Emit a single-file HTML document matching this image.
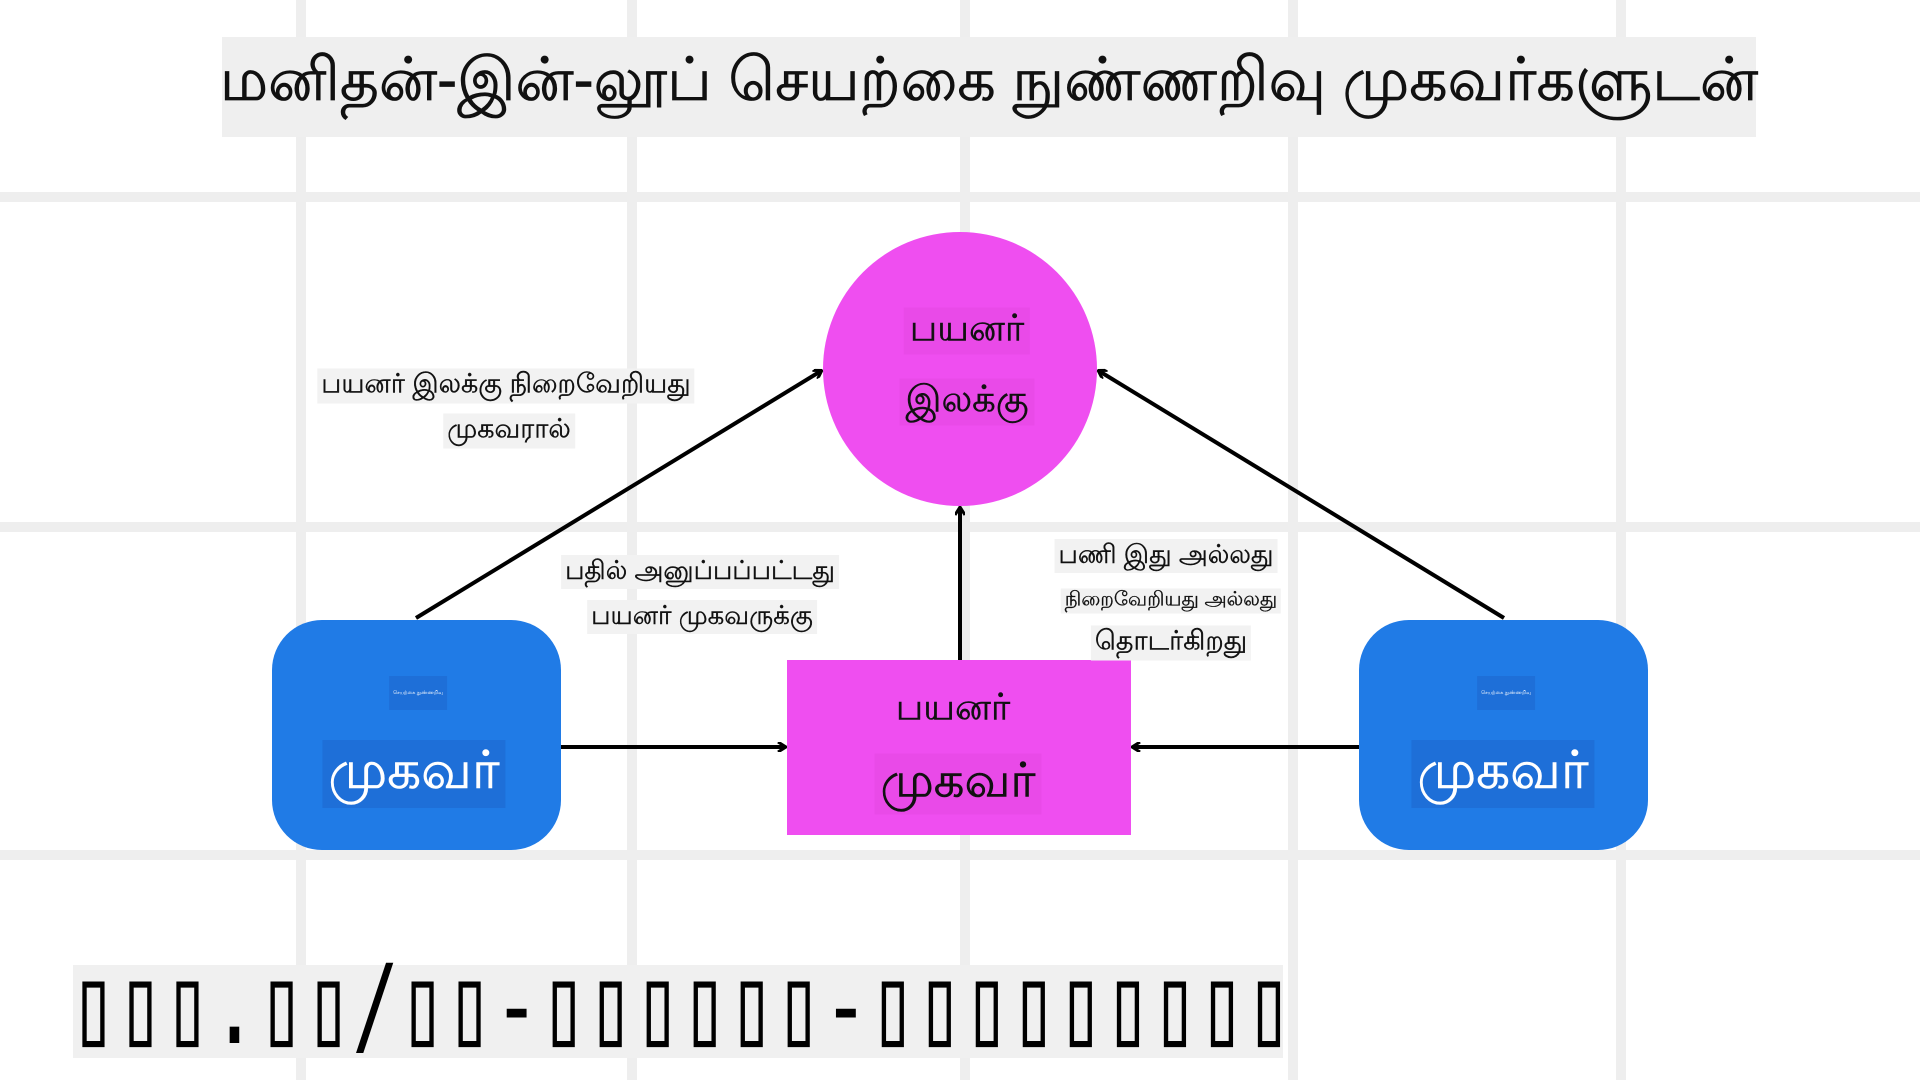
<!DOCTYPE html>
<html><head><meta charset="utf-8"><style>
body{margin:0;width:1920px;height:1080px;background:#fff;position:relative;overflow:hidden;font-family:"Liberation Sans","Noto Sans CJK SC",sans-serif}
.v{position:absolute;top:0;height:1080px;width:10px;background:#eeeeee}
.h{position:absolute;left:0;width:1920px;height:10px;background:#eeeeee}
.t{position:absolute;transform:translate(-50%,-50%);white-space:nowrap;color:#111}
.lb{background:#f2f2f2;padding:0 4px}
</style></head><body>
<div class="v" style="left:296px"></div><div class="v" style="left:627px"></div><div class="v" style="left:960px"></div><div class="v" style="left:1288px"></div><div class="v" style="left:1616px"></div>
<div class="h" style="top:192px"></div><div class="h" style="top:522px"></div><div class="h" style="top:850px"></div>
<div style="position:absolute;left:222px;top:37px;width:1534px;height:100px;background:#efefef"></div>
<div class="t" style="left:989px;top:84px;font-size:60px;-webkit-text-stroke:0.8px #111">மனிதன்-இன்-லூப் செயற்கை நுண்ணறிவு முகவர்களுடன்</div>
<svg width="1920" height="1080" style="position:absolute;left:0;top:0">
<defs><marker id="a" markerWidth="10" markerHeight="10" refX="8" refY="5" orient="auto" markerUnits="userSpaceOnUse"><path d="M1,0 L9,5 L1,10" fill="none" stroke="#000" stroke-width="3"/></marker></defs>
<circle cx="960" cy="369" r="137" fill="#ef4ef0"/>
<rect x="787" y="660" width="344" height="175" fill="#ef4ef0"/>
<rect x="272" y="620" width="289" height="230" rx="50" fill="#207be6"/>
<rect x="1359" y="620" width="289" height="230" rx="50" fill="#207be6"/>
<g stroke="#000" stroke-width="4" fill="none" marker-end="url(#a)">
<line x1="416" y1="618" x2="821" y2="371"/>
<line x1="1504" y1="618" x2="1099" y2="371"/>
<line x1="960" y1="660" x2="960" y2="508"/>
<line x1="561" y1="747" x2="785" y2="747"/>
<line x1="1359" y1="747" x2="1133" y2="747"/>
</g></svg>
<div class="t" style="left:967px;top:331px;font-size:37px;background:#e94ae8;padding:0 6px;-webkit-text-stroke:0.5px #111">பயனர்</div>
<div class="t" style="left:967px;top:402px;font-size:37px;background:#e94ae8;padding:0 6px;-webkit-text-stroke:0.5px #111">இலக்கு</div>
<div class="t" style="left:953px;top:710px;font-size:37px;-webkit-text-stroke:0.5px #111">பயனர்</div>
<div class="t" style="left:958px;top:784px;font-size:48px;background:#e94ae8;padding:0 6px;-webkit-text-stroke:0.6px #111">முகவர்</div>
<div class="t" style="left:418px;top:693px;font-size:5px;color:#fff;background:#1e6fd8;padding:14px 4px">செயற்கை நுண்ணறிவு</div>
<div class="t" style="left:414px;top:774px;font-size:53px;color:#fff;background:#1e6fd8;padding:0 6px;-webkit-text-stroke:0.6px #fff">முகவர்</div>
<div class="t" style="left:1506px;top:693px;font-size:5px;color:#fff;background:#1e6fd8;padding:14px 4px">செயற்கை நுண்ணறிவு</div>
<div class="t" style="left:1503px;top:774px;font-size:53px;color:#fff;background:#1e6fd8;padding:0 6px;-webkit-text-stroke:0.6px #fff">முகவர்</div>
<div class="t lb" style="left:506px;top:386px;font-size:27px;-webkit-text-stroke:0.4px #111">பயனர் இலக்கு நிறைவேறியது</div>
<div class="t lb" style="left:509px;top:431px;font-size:27px;-webkit-text-stroke:0.4px #111">முகவரால்</div>
<div class="t lb" style="left:700px;top:572px;font-size:26px;-webkit-text-stroke:0.4px #111">பதில் அனுப்பப்பட்டது</div>
<div class="t lb" style="left:702px;top:617px;font-size:26px;-webkit-text-stroke:0.4px #111">பயனர் முகவருக்கு</div>
<div class="t lb" style="left:1166px;top:556px;font-size:26px;-webkit-text-stroke:0.4px #111">பணி இது அல்லது</div>
<div class="t lb" style="left:1171px;top:601px;font-size:20px;-webkit-text-stroke:0.3px #111">நிறைவேறியது அல்லது</div>
<div class="t lb" style="left:1171px;top:643px;font-size:27px;-webkit-text-stroke:0.4px #111">தொடர்கிறது</div>
<div style="position:absolute;left:73px;top:965px;width:1210px;height:93px;background:#f0f0f0"></div>
<div style="position:absolute;left:70px;top:950px;font-family:'DejaVu Sans Mono',monospace;font-size:110px;line-height:110px;color:#000;transform:scaleX(0.71);transform-origin:left">▯▯▯.▯▯/▯▯-▯▯▯▯▯▯-▯▯▯▯▯▯▯▯▯</div>
</body></html>
